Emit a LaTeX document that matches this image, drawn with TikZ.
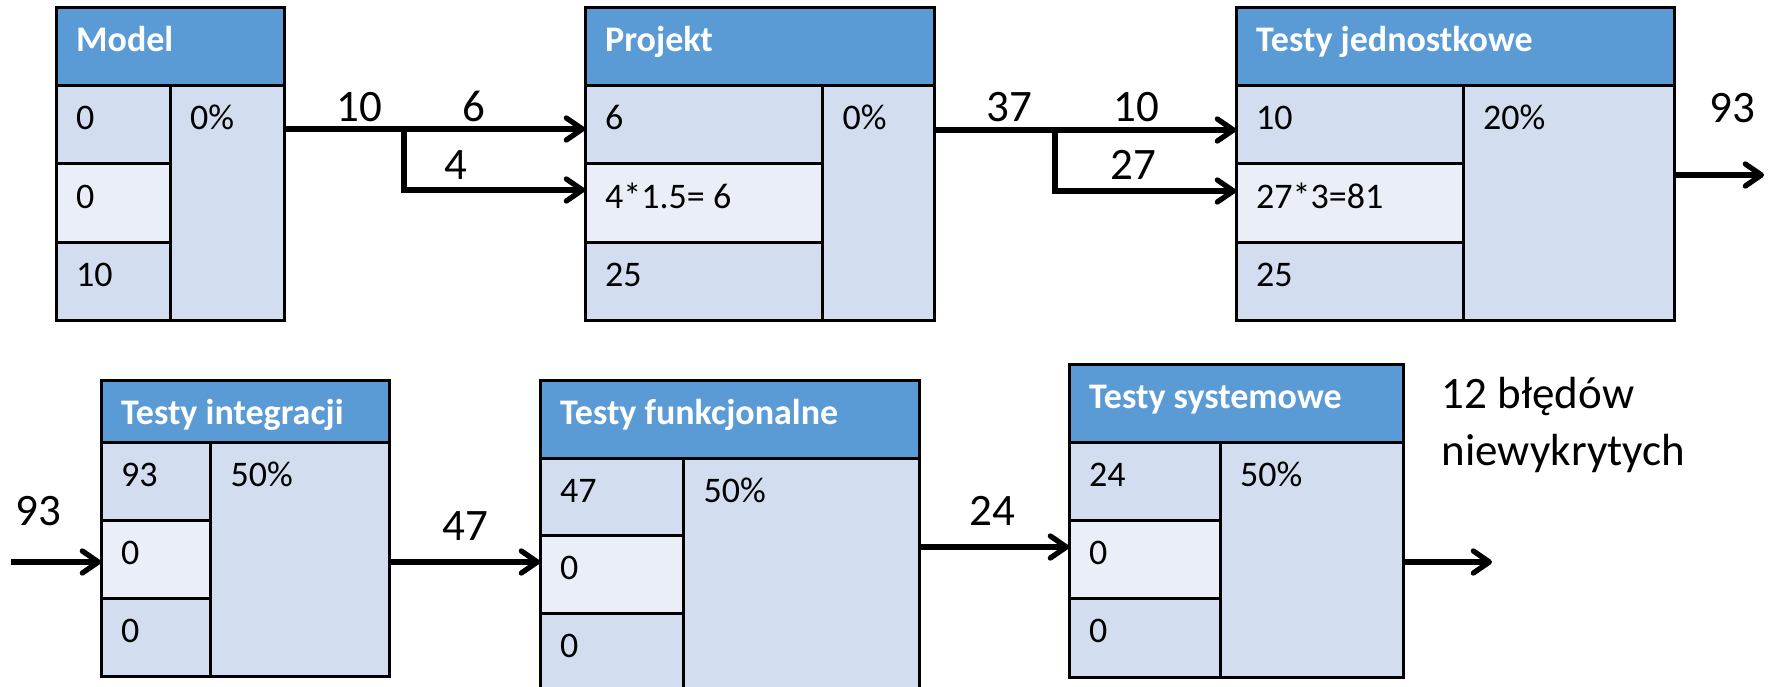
\documentclass[tikz,border=0pt]{standalone}
\usepackage{fontspec}
\setmainfont{Carlito}
\usetikzlibrary{fit,arrows.meta}

\definecolor{hdrblue}{HTML}{5B9BD5}
\definecolor{celldark}{HTML}{D2DEEF}
\definecolor{celllight}{HTML}{EAEFF7}

\tikzset{
  frame/.style={draw=black, line width=3pt, inner sep=0pt, outer sep=0pt},
  hdr/.style={frame, fill=hdrblue},
  darkcell/.style={frame, fill=celldark},
  lightcell/.style={frame, fill=celllight},
  hdrtxt/.style={anchor=base west, inner sep=0pt, text=white,
    font=\fontsize{36}{43}\selectfont\bfseries},
  celltxt/.style={anchor=base west, inner sep=0pt,
    font=\fontsize{36}{43}\selectfont},
  flowlbl/.style={anchor=base, inner sep=0pt,
    font=\fontsize{45}{57}\selectfont},
  flowtxt/.style={anchor=base west, inner sep=0pt, align=left,
    font=\fontsize{45}{57}\selectfont},
  flow/.style={line width=5.3pt, -{Straight Barb[length=16pt,width=22pt,round]}},
}

% A stage: title bar, three stacked cells on the left, percentage column on the right.
% #1 name, #2 left, #3 top, #4 bottom of title bar, #5 column divider,
% #6 right, #7 bottom, #8 title, #9 percentage
\newcommand\stagebox[9]{%
  \node[hdr, fit={(#2,#3)(#6,#4)}] (#1-h) {};
  \node[darkcell, fit={(#5,#4)(#6,#7)}] (#1-p) {};
  \node[darkcell, fit={(#2,#4)({#5},{#4+(#7-#4)/3})}] (#1-a) {};
  \node[lightcell, fit={({#2},{#4+(#7-#4)/3})({#5},{#4+2*(#7-#4)/3})}] (#1-b) {};
  \node[darkcell, fit={({#2},{#4+2*(#7-#4)/3})(#5,#7)}] (#1-c) {};
  \node[hdrtxt] (#1-ht) at ([shift={(20,44)}]#1-h.north west) {#8};
  \node[celltxt] (#1-pt) at ([shift={(20,44)}]#1-p.north west) {#9};
}
% Values in the three stacked cells of stage #1
\newcommand\cellvals[4]{%
  \node[celltxt] (#1-at) at ([shift={(20,44)}]#1-a.north west) {#2};
  \node[celltxt] (#1-bt) at ([shift={(20,44)}]#1-b.north west) {#3};
  \node[celltxt] (#1-ct) at ([shift={(20,44)}]#1-c.north west) {#4};
}

\begin{document}
\begin{tikzpicture}[x=1pt, y=-1pt]
  \useasboundingbox (0,0) rectangle (1774,687);

  % upper row
  \stagebox{mdl}{56}{8}{86}{170}{284}{320}{Model}{0\%}
  \cellvals{mdl}{0}{0}{10}
  \stagebox{prj}{585}{8}{86}{822.5}{934}{320}{Projekt}{0\%}
  \cellvals{prj}{6}{4*1.5= 6}{25}
  \stagebox{tj}{1236}{8}{86}{1463}{1674}{320}{Testy jednostkowe}{20\%}
  \cellvals{tj}{10}{27*3=81}{25}

  % lower row
  \stagebox{ti}{101}{380}{442}{210.5}{389}{676}{Testy integracji}{50\%}
  \cellvals{ti}{93}{0}{0}
  \stagebox{tf}{540}{380}{458}{683.5}{919}{691}{Testy funkcjonalne}{50\%}
  \cellvals{tf}{47}{0}{0}
  \stagebox{ts}{1069}{364}{442}{1220}{1403}{677}{Testy systemowe}{50\%}
  \cellvals{ts}{24}{0}{0}

  % Model -> Projekt, split into two streams
  \coordinate (s1) at (404,129);
  \coordinate (s1b) at (404,190);
  \draw[flow] (s1 -| mdl-p.east) -- (s1 -| prj-a.west);
  \draw[flow] (s1) -- (s1b) -- (s1b -| prj-b.west);
  \node[flowlbl] (l10a) at (359,122) {10};
  \node[flowlbl] (l6) at (474,122) {6};
  \node[flowlbl] (l4) at (456,180) {4};

  % Projekt -> Testy jednostkowe, split into two streams
  \coordinate (s2) at (1055,130);
  \coordinate (s2b) at (1055,191);
  \draw[flow] (s2 -| prj-p.east) -- (s2 -| tj-a.west);
  \draw[flow] (s2) -- (s2b) -- (s2b -| tj-b.west);
  \node[flowlbl] (l37) at (1009,122) {37};
  \node[flowlbl] (l10b) at (1136,122) {10};
  \node[flowlbl] (l27) at (1133,180) {27};

  % output of the upper row
  \coordinate (o1) at (1764,175);
  \draw[flow] (o1 -| tj-p.east) -- (o1);
  \node[flowlbl] (l93a) at (1732,123) {93};

  % lower row flows
  \coordinate (i2) at (11,562);
  \draw[flow] (i2) -- (i2 -| ti-b.west);
  \node[flowlbl] (l93b) at (38.5,525) {93};

  \coordinate (f1) at (400,562);
  \draw[flow] (f1 -| ti-p.east) -- (f1 -| tf-b.west);
  \node[flowlbl] (l47) at (465,540) {47};

  \coordinate (f2) at (990,547);
  \draw[flow] (f2 -| tf-p.east) -- (f2 -| ts-b.west);
  \node[flowlbl] (l24) at (992,525) {24};

  \coordinate (o2) at (1492,562);
  \draw[flow] (o2 -| ts-p.east) -- (o2);
  \node[flowtxt] (lout) at (1441.6,465) {12 błędów\\niewykrytych};
\end{tikzpicture}
\end{document}
